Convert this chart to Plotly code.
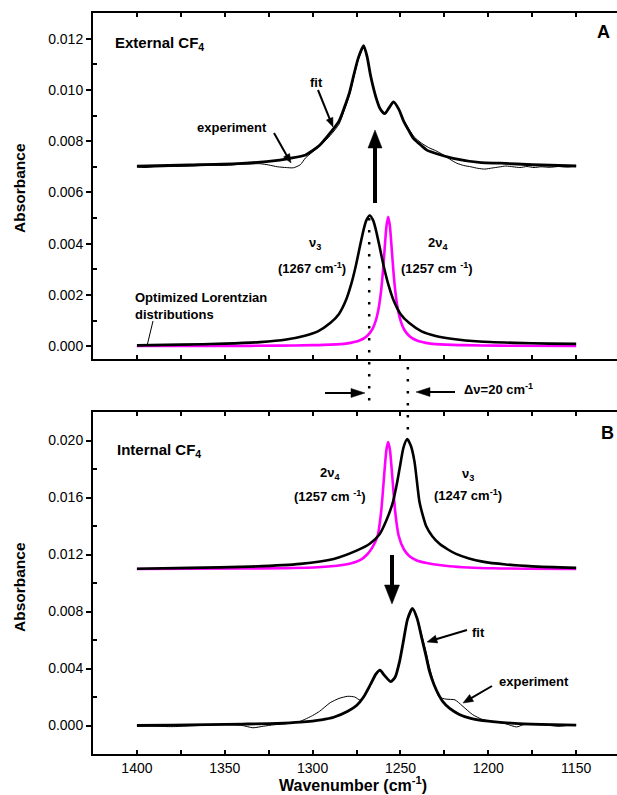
import math
import plotly.graph_objects as go

# ---------------- data ----------------
# Panel A : external CF4
ext_fit_wn = [1400, 1370, 1340, 1320, 1313, 1304, 1296, 1290, 1285, 1282, 1279, 1276.5, 1274, 1271,
              1269, 1267, 1264, 1261.5, 1259, 1256.5, 1254, 1251, 1248, 1245, 1242.5, 1238, 1235,
              1228, 1220, 1204, 1193, 1175, 1150]
ext_fit_abs = [0.00702, 0.00707, 0.00713, 0.00725, 0.00733, 0.00746, 0.00784, 0.00832, 0.00878, 0.00930,
               0.00990, 0.01060, 0.01125, 0.01173, 0.01130, 0.01055, 0.00972, 0.00925, 0.00907, 0.00930,
               0.00953, 0.00925, 0.00875, 0.00838, 0.00810, 0.00782, 0.00765, 0.00748, 0.00733, 0.00716,
               0.00714, 0.00708, 0.00703]

ext_exp_wn = [1400, 1396, 1390, 1380, 1370, 1360, 1350, 1340, 1330, 1325, 1320, 1315, 1311, 1307, 1304,
              1300, 1296, 1290, 1285, 1282, 1279, 1276.5, 1274, 1271, 1269, 1267, 1264, 1261.5, 1259,
              1256.5, 1254, 1251, 1248, 1245, 1242, 1238, 1234, 1230, 1226, 1222, 1218, 1214, 1210,
              1206, 1202, 1198, 1194, 1190, 1186, 1182, 1178, 1174, 1170, 1165, 1160, 1155, 1150]
ext_exp_abs = [0.00700, 0.00697, 0.00700, 0.00701, 0.00703, 0.00706, 0.00705, 0.00710, 0.00712, 0.00707,
               0.00700, 0.00697, 0.00696, 0.00708, 0.00735, 0.00758, 0.00780, 0.00822, 0.00866, 0.00920,
               0.00980, 0.01050, 0.01118, 0.01165, 0.01128, 0.01055, 0.00975, 0.00928, 0.00910, 0.00932,
               0.00950, 0.00925, 0.00880, 0.00845, 0.00815, 0.00792, 0.00775, 0.00763, 0.00748, 0.00730,
               0.00714, 0.00705, 0.00700, 0.00694, 0.00691, 0.00695, 0.00699, 0.00703, 0.00700, 0.00697,
               0.00701, 0.00697, 0.00700, 0.00698, 0.00701, 0.00699, 0.00703]

ext_v3_wn = [1400, 1375, 1350, 1330, 1315, 1305, 1297, 1290, 1285, 1281, 1278, 1275.5, 1273, 1271, 1269.5,
             1267.5, 1265.5, 1264, 1262, 1259.5, 1257, 1254, 1250, 1245, 1238, 1230, 1220, 1205, 1185,
             1165, 1150]
ext_v3_abs = [0.00003, 0.00006, 0.00010, 0.00016, 0.00026, 0.00040, 0.00058, 0.00090, 0.00126, 0.00180,
              0.00243, 0.00311, 0.00392, 0.00454, 0.00490, 0.00510, 0.00490, 0.00454, 0.00392, 0.00311,
              0.00243, 0.00180, 0.00126, 0.00090, 0.00058, 0.00040, 0.00028, 0.00018, 0.00013, 0.00010,
              0.00009]

ext_v4_wn = [1400, 1350, 1320, 1300, 1290, 1281, 1273, 1269, 1266, 1264, 1262.5, 1261, 1260, 1259, 1258,
             1257, 1256, 1255, 1254, 1253, 1251.5, 1250, 1248, 1245, 1241, 1233, 1224, 1214, 1194, 1150]
ext_v4_abs = [0.00001, 0.00001, 0.00002, 0.00004, 0.00006, 0.00010, 0.00023, 0.00040, 0.00066, 0.00101,
              0.00145, 0.00218, 0.00291, 0.00381, 0.00467, 0.00505, 0.00467, 0.00381, 0.00291, 0.00218,
              0.00145, 0.00101, 0.00066, 0.00040, 0.00023, 0.00010, 0.00006, 0.00004, 0.00002, 0.00001]

# Panel B : internal CF4
int_fit_wn = [1400, 1380, 1360, 1340, 1320, 1307, 1295, 1288, 1280, 1275, 1271, 1267, 1264, 1261.7, 1259,
              1255.5, 1253, 1250.5, 1248.5, 1246, 1243.2, 1240.5, 1238, 1235.5, 1233.5, 1231, 1228,
              1226, 1222, 1216.5, 1210, 1200, 1185, 1170, 1150]
int_fit_abs = [0.00000, 0.00003, 0.00006, 0.00010, 0.00015, 0.00024, 0.00040, 0.00058, 0.00100, 0.00140,
               0.00200, 0.00290, 0.00360, 0.00388, 0.00350, 0.00308, 0.00340, 0.00450, 0.00580, 0.00745,
               0.00822, 0.00750, 0.00620, 0.00490, 0.00380, 0.00290, 0.00210, 0.00170, 0.00120, 0.00078,
               0.00050, 0.00030, 0.00015, 0.00008, 0.00002]

int_exp_wn = [1400, 1390, 1380, 1370, 1360, 1350, 1340, 1334, 1328, 1322, 1315, 1307, 1300, 1296, 1290,
              1285, 1280, 1276, 1273, 1271, 1267, 1264, 1261.7, 1259, 1255.5, 1253, 1250.5, 1248.5, 1246,
              1243.2, 1240.5, 1238, 1235.5, 1233.5, 1231, 1228, 1224, 1219, 1215, 1209, 1203, 1197,
              1190, 1184, 1180, 1170, 1165, 1160, 1155, 1150]
int_exp_abs = [0.00000, -0.00005, -0.00008, -0.00003, 0.00002, 0.00005, 0.00000, -0.00016, -0.00005,
               0.00005, 0.00012, 0.00030, 0.00070, 0.00100, 0.00160, 0.00190, 0.00205, 0.00200, 0.00178,
               0.00195, 0.00285, 0.00355, 0.00385, 0.00350, 0.00310, 0.00345, 0.00455, 0.00580, 0.00740,
               0.00815, 0.00755, 0.00640, 0.00520, 0.00410, 0.00300, 0.00200, 0.00185, 0.00180, 0.00140,
               0.00077, 0.00040, 0.00028, 0.00012, -0.00010, 0.00005, 0.00004, 0.00000, -0.00006,
               0.00000, 0.00002]

int_v3_wn = [1400, 1370, 1335.5, 1307, 1288, 1275, 1267.5, 1262, 1258, 1254.3, 1252.3, 1250.5, 1248.3,
             1246.2, 1244, 1242, 1239.2, 1237.3, 1235.4, 1232, 1227.8, 1223, 1218.4, 1211, 1203.3,
             1190, 1175, 1150]
int_v3_abs = [0.01100, 0.01106, 0.01115, 0.01134, 0.01169, 0.01227, 0.01275, 0.01340, 0.01440, 0.01568,
              0.01680, 0.01803, 0.01950, 0.02010, 0.01960, 0.01850, 0.01570, 0.01475, 0.01400, 0.01330,
              0.01275, 0.01235, 0.01204, 0.01172, 0.01150, 0.01130, 0.01117, 0.01106]

int_v4_wn = [1400, 1340, 1317, 1297, 1279, 1273, 1269, 1266, 1263, 1261, 1259, 1258, 1257, 1256, 1255,
             1253, 1251, 1248, 1245, 1241, 1235, 1222, 1197, 1150]
int_v4_abs = [0.01098, 0.01102, 0.01104, 0.01110, 0.01135, 0.01160, 0.01200, 0.01250, 0.01330, 0.01500,
              0.01800, 0.01935, 0.01990, 0.01935, 0.01800, 0.01500, 0.01330, 0.01235, 0.01190, 0.01160,
              0.01140, 0.01118, 0.01103, 0.01099]

x_tickvals = [1400, 1350, 1300, 1250, 1200, 1150]
x_minorvals = [1375, 1325, 1275, 1225, 1175]
yA_tickvals = [0.000, 0.002, 0.004, 0.006, 0.008, 0.010, 0.012]
yA_minor = [0.001, 0.003, 0.005, 0.007, 0.009, 0.011]
yB_tickvals = [0.000, 0.004, 0.008, 0.012, 0.016, 0.020]
yB_minor = [0.002, 0.006, 0.010, 0.014, 0.018]

# ---------------- layout helpers ----------------
FONT = "Liberation Sans, Arial, sans-serif"
W, H = 617, 795
ML, MR, MT, MB = 93, 0, 13, 41
PW, PH = W - ML - MR, H - MT - MB


def PX(px):
    return (px - ML) / PW


def PY(py):
    return (H - MB - py) / PH


MAGENTA = "#FF00FF"
fig = go.Figure()

spline = dict(shape="spline", smoothing=0.6)
# top panel traces
fig.add_trace(go.Scatter(x=ext_exp_wn, y=ext_exp_abs, mode="lines", xaxis="x2", yaxis="y2",
                         line=dict(color="black", width=1, **spline)))
fig.add_trace(go.Scatter(x=ext_fit_wn, y=ext_fit_abs, mode="lines", xaxis="x2", yaxis="y2",
                         line=dict(color="black", width=2.8, **spline)))
fig.add_trace(go.Scatter(x=ext_v4_wn, y=ext_v4_abs, mode="lines", xaxis="x2", yaxis="y2",
                         line=dict(color=MAGENTA, width=2.6, **spline)))
fig.add_trace(go.Scatter(x=ext_v3_wn, y=ext_v3_abs, mode="lines", xaxis="x2", yaxis="y2",
                         line=dict(color="black", width=2.6, **spline)))
# bottom panel traces
fig.add_trace(go.Scatter(x=int_v4_wn, y=int_v4_abs, mode="lines", xaxis="x", yaxis="y",
                         line=dict(color=MAGENTA, width=2.6, **spline)))
fig.add_trace(go.Scatter(x=int_v3_wn, y=int_v3_abs, mode="lines", xaxis="x", yaxis="y",
                         line=dict(color="black", width=2.6, **spline)))
fig.add_trace(go.Scatter(x=int_exp_wn, y=int_exp_abs, mode="lines", xaxis="x", yaxis="y",
                         line=dict(color="black", width=1, **spline)))
fig.add_trace(go.Scatter(x=int_fit_wn, y=int_fit_abs, mode="lines", xaxis="x", yaxis="y",
                         line=dict(color="black", width=2.8, **spline)))

XR = [1425, 1425 - PW / 1.757]
xcommon = dict(range=XR, tickvals=x_tickvals, ticks="inside", ticklen=4, tickwidth=1.5,
               tickcolor="black", showline=True, linewidth=2, linecolor="black", mirror="ticks",
               showgrid=False, zeroline=False, tickfont=dict(size=14, family=FONT, color="black"),
               minor=dict(tickvals=x_minorvals, ticks="inside", ticklen=4, tickwidth=1.5, tickcolor="black"))
ycommon = dict(ticks="outside", ticklen=5, tickwidth=1.5, tickcolor="black", showline=True,
               linewidth=2, linecolor="black", showgrid=False, zeroline=False,
               tickfont=dict(size=14, family=FONT, color="black"))

yB_dom = [0, PY(412)]
yA_dom = [PY(359), 1]

fig.update_layout(
    width=W, height=H, margin=dict(l=ML, r=MR, t=MT, b=MB), showlegend=False,
    plot_bgcolor="white", paper_bgcolor="white",
    font=dict(family=FONT, color="black"),
    xaxis=dict(domain=[0, 1], anchor="y", **xcommon),
    xaxis2=dict(domain=[0, 1], anchor="y2", matches="x", showticklabels=False, **xcommon),
    yaxis=dict(domain=yB_dom, anchor="x", range=[-0.002, 0.022], tickvals=yB_tickvals,
               ticktext=["%.3f" % v for v in yB_tickvals],
               minor=dict(tickvals=yB_minor, ticks="inside", ticklen=4, tickcolor="black"), **ycommon),
    yaxis2=dict(domain=yA_dom, anchor="x2", range=[-0.0005, 0.013], tickvals=yA_tickvals,
                ticktext=["%.3f" % v for v in yA_tickvals],
                minor=dict(tickvals=yA_minor, ticks="inside", ticklen=4, tickcolor="black"), **ycommon),
    yaxis3=dict(overlaying="y", side="right", anchor="x", range=[-0.002, 0.022], tickvals=yB_tickvals,
                ticks="inside", ticklen=4, tickwidth=1.5, tickcolor="black", showticklabels=False,
                showline=False, showgrid=False, zeroline=False),
    yaxis4=dict(overlaying="y2", side="right", anchor="x2", range=[-0.0005, 0.013], tickvals=yA_tickvals,
                ticks="inside", ticklen=4, tickwidth=1.5, tickcolor="black", showticklabels=False,
                showline=False, showgrid=False, zeroline=False),
)


def txt(px, py, text, size=13, xanchor="center", angle=0):
    return dict(x=PX(px), y=PY(py), xref="paper", yref="paper", text=text, showarrow=False,
                font=dict(size=size, family=FONT, color="black"), xanchor=xanchor, yanchor="middle",
                textangle=angle, align="left")


ann = [
    txt(113, 43, "<b>External CF<sub>4</sub></b>", 15, "left"),
    txt(603, 32, "<b>A</b>", 18),
    txt(316, 82, "<b>fit</b>", 13),
    txt(232, 127, "<b>experiment</b>", 13),
    txt(315, 243, "<b>ν<sub>3</sub></b>", 13),
    txt(312, 268, "<b>(1267 cm<sup>-1</sup>)</b>", 13),
    txt(438, 243, "<b>2ν<sub>4</sub></b>", 13),
    txt(437, 268, "<b>(1257 cm <sup>-1</sup>)</b>", 13),
    txt(133, 306, "<b>Optimized Lorentzian<br>distributions</b>", 13, "left"),
    txt(462, 389, "<b>Δν=20 cm<sup>-1</sup></b>", 13, "left"),
    txt(115, 450, "<b>Internal CF<sub>4</sub></b>", 15, "left"),
    txt(607, 433, "<b>B</b>", 18),
    txt(330, 473, "<b>2ν<sub>4</sub></b>", 13),
    txt(330, 496, "<b>(1257 cm <sup>-1</sup>)</b>", 13),
    txt(468, 474, "<b>ν<sub>3</sub></b>", 13),
    txt(468, 495, "<b>(1247 cm<sup>-1</sup>)</b>", 13),
    txt(478, 632, "<b>fit</b>", 13),
    txt(534, 681, "<b>experiment</b>", 13),
    txt(19, 188, "<b>Absorbance</b>", 15.5, "center", -90),
    txt(19, 587, "<b>Absorbance</b>", 15.5, "center", -90),
    txt(353, 784, "<b>Wavenumber (cm<sup>-1</sup>)</b>", 16),
]
fig.update_layout(annotations=ann)


def arrow_shapes(tip, tail, width, head_len, head_hw):
    tx, ty = tip
    sx, sy = tail
    d = math.hypot(tx - sx, ty - sy)
    ux, uy = (tx - sx) / d, (ty - sy) / d
    nx, ny = -uy, ux
    bx, by = tx - ux * head_len, ty - uy * head_len
    shaft = dict(type="line", xref="paper", yref="paper", x0=PX(sx), y0=PY(sy),
                 x1=PX(bx + ux * 1.5), y1=PY(by + uy * 1.5), line=dict(color="black", width=width))
    pts = [(tx, ty), (bx + nx * head_hw, by + ny * head_hw), (bx - nx * head_hw, by - ny * head_hw)]
    path = "M " + " L ".join("%.5f,%.5f" % (PX(a), PY(b)) for a, b in pts) + " Z"
    head = dict(type="path", xref="paper", yref="paper", path=path, fillcolor="black",
                line=dict(color="black", width=0.5))
    return [shaft, head]


dots = dict(color="black", width=2.5, dash="2.5px,9.5px")
shapes = [
    dict(type="line", xref="x", yref="paper", x0=1267.8, x1=1267.8, y0=PY(218), y1=PY(405), line=dots),
    dict(type="line", xref="x", yref="paper", x0=1245.8, x1=1245.8, y0=PY(367), y1=PY(440), line=dots),
    dict(type="line", xref="paper", yref="paper", x0=PX(153), y0=PY(321), x1=PX(147), y1=PY(346),
         line=dict(color="black", width=1)),
]
shapes += arrow_shapes((333, 127), (318, 90), 2, 9, 3.5)
shapes += arrow_shapes((291, 163), (274, 133), 2, 9, 3.5)
shapes += arrow_shapes((375, 130), (375, 203), 4, 18, 7)
shapes += arrow_shapes((365, 393), (325, 393), 2, 14, 4.5)
shapes += arrow_shapes((416, 392), (455, 392), 2, 14, 4.5)
shapes += arrow_shapes((392, 604), (392, 555), 4, 19, 7.5)
shapes += arrow_shapes((427, 642), (467, 630), 2, 10, 4)
shapes += arrow_shapes((463, 703), (492, 686), 2, 10, 4)
fig.update_layout(shapes=shapes)

fig.write_html("out.html", config={"displayModeBar": False},
               post_script="document.body.style.margin='0';document.body.style.overflow='hidden';")
